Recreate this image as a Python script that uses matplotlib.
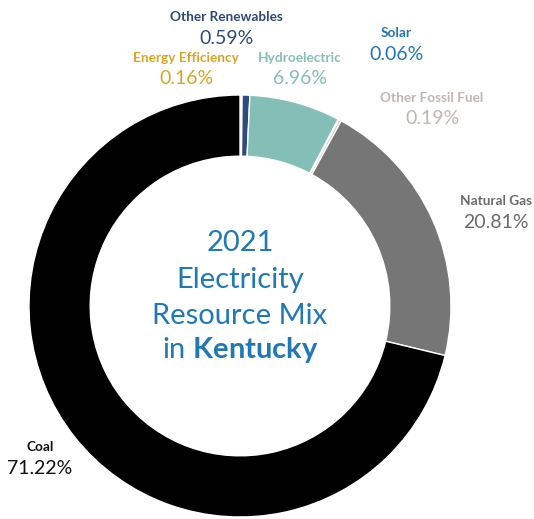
import matplotlib
matplotlib.use("Agg")
import matplotlib.pyplot as plt

plt.rcParams['font.family'] = ['Lato', 'DejaVu Sans']
plt.rcParams['mathtext.fontset'] = 'custom'
plt.rcParams['mathtext.rm'] = 'Lato'
plt.rcParams['mathtext.bf'] = 'Lato:bold'

# Resource shares, clockwise from 12 o'clock
resources = ["Energy Efficiency", "Other Renewables", "Hydroelectric", "Solar",
             "Other Fossil Fuel", "Natural Gas", "Coal"]
shares = [0.16, 0.59, 6.96, 0.06, 0.19, 20.81, 71.22]
wedge_colors = ["#f2c54a", "#2b4c7e", "#84bfb7", "#1f77b4", "#c9c1bd", "#767676", "#000000"]
label_colors = ["#d9a521", "#2e4a7a", "#84bfb7", "#1f77b4", "#c0b6b2", "#6b6b6b", "#111111"]

# label anchor positions in pixels (x, y from top)
label_pos = {
    "Energy Efficiency": (186, 58),
    "Other Renewables": (226, 17),
    "Hydroelectric": (300, 58),
    "Solar": (396, 33),
    "Other Fossil Fuel": (432, 98),
    "Natural Gas": (496, 201),
    "Coal": (40, 447),
}

W, H = 534, 519
fig = plt.figure(figsize=(W / 100, H / 100), dpi=100)

cx, cy, R = 240, 306, 211
ax = fig.add_axes([(cx - R) / W, (H - cy - R) / H, 2 * R / W, 2 * R / H])
ax.pie(shares, colors=wedge_colors, startangle=90, counterclock=False,
       radius=1.0, wedgeprops=dict(width=0.29, edgecolor="white", linewidth=1.0))
ax.set_xlim(-1, 1)
ax.set_ylim(-1, 1)
ax.set_aspect("equal")
ax.axis("off")

for name, val, col in zip(resources, shares, label_colors):
    x, y = label_pos[name]
    fig.text(x / W, 1 - y / H, name, ha="center", va="center",
             fontsize=9.8, fontweight="bold", color=col)
    fig.text(x / W, 1 - (y + 21) / H, f"{val:.2f}%", ha="center", va="center",
             fontsize=14, color=col)

title_color = "#2079b5"
title_lines = ["2021", "Electricity", "Resource Mix", r"in $\mathbf{Kentucky}$"]
title_y = [243, 280, 316, 350]
for line, y in zip(title_lines, title_y):
    fig.text(cx / W, 1 - y / H, line, ha="center", va="center",
             fontsize=21, color=title_color)

fig.savefig("out.png", dpi=100)
